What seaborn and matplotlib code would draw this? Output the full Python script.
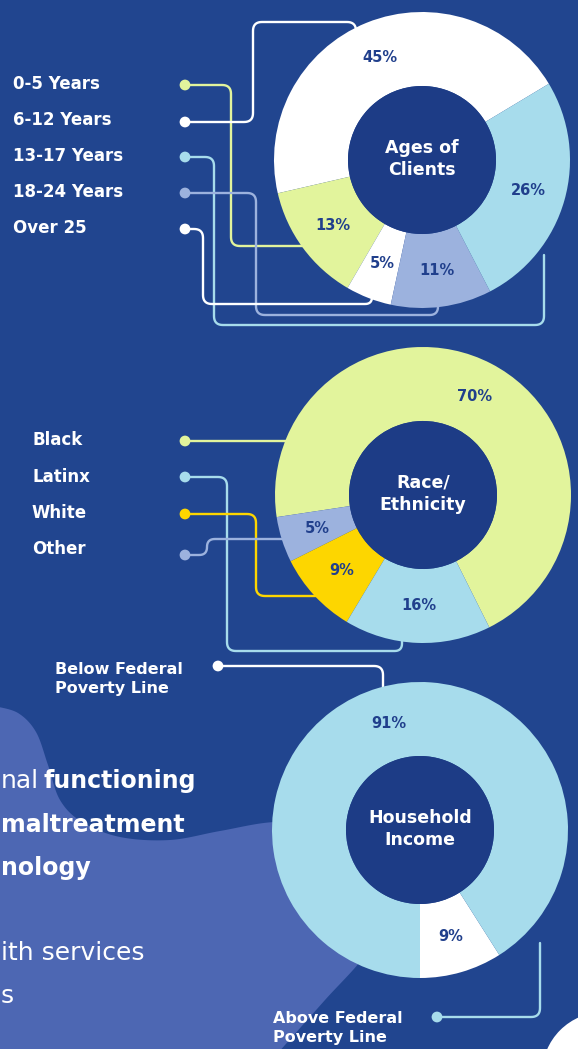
import numpy as np
import pandas as pd
import matplotlib
matplotlib.use("Agg")
import matplotlib.pyplot as plt
from matplotlib.patches import Circle, Polygon
import seaborn as sns

# ---------------- data ----------------
age_categories = ["0-5 Years", "6-12 Years", "13-17 Years", "18-24 Years", "Over 25"]
age_values = [13, 45, 26, 11, 5]
race_categories = ["Black", "Latinx", "White", "Other"]
race_values = [70, 16, 9, 5]
income_categories = ["Below Federal\nPoverty Line", "Above Federal\nPoverty Line"]
income_values = [91, 9]
chart_titles = ["Ages of\nClients", "Race/\nEthnicity", "Household\nIncome"]
side_text_bold = ["functioning", "maltreatment", "nology"]
side_text_regular = ["nal", "ith services", "s"]

# ---------------- style ----------------
W_PX, H_PX = 578, 1049
BG = "#21458F"
INNER = "#1D3C86"
BLOB = "#4D67B3"
NAVY = "#203F8C"
WHITE = "#FFFFFF"
LIME = "#E2F49C"
LBLUE = "#A7DCEC"
PERI = "#9CB2DE"
YELLOW = "#FDD600"

age_colors = [LIME, WHITE, LBLUE, PERI, WHITE]
race_colors = [LIME, LBLUE, YELLOW, PERI]
income_slice_colors = [LBLUE, WHITE]
income_dot_colors = [WHITE, LBLUE]

sns.set_theme(style="white", rc={"axes.facecolor": BG, "figure.facecolor": BG})
plt.rcParams["font.family"] = ["DejaVu Sans"]

fig = plt.figure(figsize=(W_PX / 100, H_PX / 100), dpi=100)
ax = fig.add_axes([0, 0, 1, 1])
ax.set_facecolor(BG)


def Y(y):
    return H_PX - y


def rounded(pts, r=9, n=10):
    pts = [np.array([p[0], Y(p[1])], float) for p in pts]
    out = [pts[0]]
    for i in range(1, len(pts) - 1):
        p0, p1, p2 = pts[i - 1], pts[i], pts[i + 1]
        d1 = p0 - p1
        l1 = np.linalg.norm(d1)
        d1 /= l1
        d2 = p2 - p1
        l2 = np.linalg.norm(d2)
        d2 /= l2
        rr = min(r, l1 / 2, l2 / 2)
        a = p1 + d1 * rr
        b = p1 + d2 * rr
        t = np.linspace(0, 1, n)[:, None]
        out.extend((1 - t) ** 2 * a + 2 * (1 - t) * t * p1 + t ** 2 * b)
    out.append(pts[-1])
    return np.array(out)


def catmull(pts, n=16):
    pts = np.asarray([[p[0], Y(p[1])] for p in pts], float)
    P = np.vstack([pts[0], pts, pts[-1]])
    out = []
    for i in range(1, len(P) - 2):
        p0, p1, p2, p3 = P[i - 1], P[i], P[i + 1], P[i + 2]
        t = np.linspace(0, 1, n, endpoint=False)[:, None]
        out.append(0.5 * ((2 * p1) + (-p0 + p2) * t + (2 * p0 - 5 * p1 + 4 * p2 - p3) * t ** 2
                          + (-p0 + 3 * p1 - 3 * p2 + p3) * t ** 3))
    out.append(pts[-1][None])
    return np.vstack(out)


# ---------------- background blob ----------------
blob_pts = [(-6, 706), (18, 713), (36, 732), (48, 765), (60, 800), (82, 822), (120, 837),
            (170, 840), (220, 831), (275, 822), (330, 826), (368, 860), (378, 920),
            (365, 955), (325, 1000), (285, 1045), (270, 1062)]
curve = catmull(blob_pts)
poly = np.vstack([curve, [[-6, Y(1062)]]])
ax.add_patch(Polygon(poly, closed=True, facecolor=BLOB, edgecolor="none", zorder=0))
ax.add_patch(Circle((604, Y(1074)), 62, facecolor=WHITE, edgecolor="none", zorder=0.5))

# ---------------- connector lines ----------------
LW = 1.7
age_paths = [
    [(185, 85), (231, 85), (231, 246), (310, 246)],
    [(185, 122), (253, 122), (253, 22), (356, 22), (356, 42)],
    [(185, 157), (214, 157), (214, 325), (544, 325), (544, 255)],
    [(185, 193), (256, 193), (256, 315), (438, 315), (438, 298)],
    [(185, 229), (203, 229), (203, 304), (372, 304), (372, 290)],
]
race_paths = [
    [(185, 441), (292, 441)],
    [(185, 477), (227, 477), (227, 651), (402, 651), (402, 636)],
    [(185, 514), (256, 514), (256, 596), (318, 596)],
    [(185, 555), (207, 555), (207, 539), (292, 539)],
]
income_paths = [
    [(218, 666), (383, 666), (383, 698)],
    [(437, 1017), (540, 1017), (540, 943)],
]
for paths, cols in [(age_paths, age_colors), (race_paths, race_colors),
                    (income_paths, income_dot_colors)]:
    for pts, c in zip(paths, cols):
        xy = rounded(pts, r=9 if len(pts) > 2 else 0)
        ax.plot(xy[:, 0], xy[:, 1], color=c, lw=LW, solid_capstyle="round", zorder=1)

# ---------------- donuts ----------------
R = 148
WIDTH = 74
donuts = [
    dict(values=age_values, colors=age_colors, order=[1, 0, 4, 3, 2], start=31,
         center=(422, 160), title=chart_titles[0]),
    dict(values=race_values, colors=race_colors, order=[0, 3, 2, 1], start=-63.4,
         center=(423, 495), title=chart_titles[1]),
    dict(values=income_values, colors=income_slice_colors, order=[1, 0], start=270,
         center=(420, 830), title=chart_titles[2]),
]
for d in donuts:
    vals = [d["values"][i] for i in d["order"]]
    cols = [d["colors"][i] for i in d["order"]]
    cx, cy = d["center"]
    wedges, _, autotexts = ax.pie(
        vals, colors=cols, startangle=d["start"], counterclock=True, radius=R,
        center=(cx, Y(cy)), wedgeprops=dict(width=WIDTH, edgecolor="none", linewidth=0),
        autopct=lambda p: f"{p:.0f}%", pctdistance=0.75,
        textprops=dict(color=NAVY, fontsize=10.5, fontweight="bold"))
    for w in wedges:
        w.set_zorder(2)
    for t in autotexts:
        t.set_zorder(4)
    ax.add_patch(Circle((cx, Y(cy)), R - WIDTH, facecolor=INNER, edgecolor="none", zorder=2.5))
    ax.text(cx, Y(cy) + 1, d["title"], color=WHITE, fontsize=12.5, fontweight="bold",
            ha="center", va="center", linespacing=1.3, zorder=4)

# ---------------- legends ----------------
age_text_y = [84, 120, 156, 192, 228]
age_dot_y = [85, 122, 157, 193, 229]
race_text_y = [440, 477, 513, 549]
race_dot_y = [441, 477, 514, 555]

for cats, ty, tx in [(age_categories, age_text_y, 13), (race_categories, race_text_y, 32)]:
    for c, y in zip(cats, ty):
        ax.text(tx, Y(y), c, color=WHITE, fontsize=12, fontweight="bold", ha="left",
                va="center", zorder=4)

ax.text(55, Y(679), income_categories[0], color=WHITE, fontsize=11.5, fontweight="bold",
        ha="left", va="center", linespacing=1.4, zorder=4)
ax.text(273, Y(1028), income_categories[1], color=WHITE, fontsize=11.5, fontweight="bold",
        ha="left", va="center", linespacing=1.4, zorder=4)

dots = pd.DataFrame({
    "label": age_categories + race_categories + income_categories,
    "x": [185] * 9 + [218, 437],
    "y": [Y(v) for v in age_dot_y + race_dot_y + [666, 1017]],
})
dot_colors = age_colors + race_colors + income_dot_colors
sns.scatterplot(data=dots, x="x", y="y", hue="label",
                palette=dict(zip(dots["label"], dot_colors)), s=60, linewidth=0,
                legend=False, ax=ax, zorder=5)

# ---------------- side text on blob ----------------
FS_B = 17
FS_R = 18
ax.text(1, Y(788), side_text_regular[0], color=WHITE, fontsize=FS_R, ha="left", va="baseline", zorder=4)
ax.text(196, Y(788), side_text_bold[0], color=WHITE, fontsize=FS_B, fontweight="bold", ha="right",
        va="baseline", zorder=4)
ax.text(1, Y(832), side_text_bold[1], color=WHITE, fontsize=FS_B, fontweight="bold", ha="left",
        va="baseline", zorder=4)
ax.text(1, Y(875), side_text_bold[2], color=WHITE, fontsize=FS_B, fontweight="bold", ha="left",
        va="baseline", zorder=4)
ax.text(1, Y(960), side_text_regular[1], color=WHITE, fontsize=FS_R, ha="left", va="baseline", zorder=4)
ax.text(1, Y(1003), side_text_regular[2], color=WHITE, fontsize=FS_R, ha="left", va="baseline", zorder=4)

ax.set_xlim(0, W_PX)
ax.set_ylim(0, H_PX)
ax.set_aspect("auto")
ax.axis("off")
fig.savefig("out.png", dpi=100, facecolor=BG)
